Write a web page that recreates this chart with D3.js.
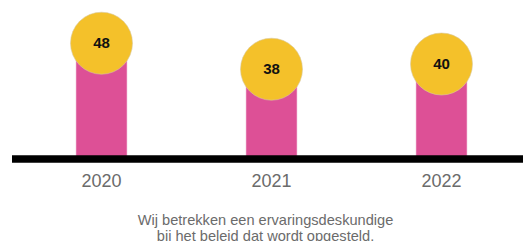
<!DOCTYPE html>
<meta charset="utf-8">
<head>
    <script src="https://d3js.org/d3.v7.min.js"></script>
    <style>
    body {
        margin: 0;
        font-family: "Liberation Sans", Arial, sans-serif;
        background: #fff;
    }
    .tick-label {
        font-size: 18px;
        fill: #6b6b6b;
    }
    .value {
        font-size: 15px;
        font-weight: bold;
        fill: #111;
    }
    .caption {
        font-size: 14.6px;
        fill: #6b6b6b;
    }
    </style>
</head>

<body>
<script>

// data
var years = ["2020", "2021", "2022"];
var scores = [48, 38, 40];
var caption = ["Wij betrekken een ervaringsdeskundige", "bij het beleid dat wordt opgesteld."];

var width = 523, height = 241;
var baseline = 159;

// scales
var x = d3.scalePoint().domain(years).range([101.5, 441.5]);
var y = d3.scaleLinear().domain([0, 60]).range([168, 12]);

var svg = d3.select("body").append("svg")
    .attr("width", width)
    .attr("height", height);

var data = years.map(function(d, i) { return {year: d, score: scores[i]}; });

// bars
svg.selectAll(".bar")
    .data(data)
  .enter().append("rect")
    .attr("class", "bar")
    .attr("x", function(d) { return x(d.year) - 25.5; })
    .attr("width", 51)
    .attr("y", function(d) { return y(d.score); })
    .attr("height", function(d) { return baseline - y(d.score); })
    .attr("fill", "#dd5096")
    .attr("stroke", "#f0c6dc")
    .attr("stroke-width", 0.6);

// axis line
svg.append("line")
    .attr("x1", 12)
    .attr("x2", width)
    .attr("y1", baseline)
    .attr("y2", baseline)
    .attr("stroke", "#000")
    .attr("stroke-width", 7.5);

// circles
svg.selectAll(".dot")
    .data(data)
  .enter().append("circle")
    .attr("class", "dot")
    .attr("cx", function(d) { return x(d.year); })
    .attr("cy", function(d) { return y(d.score); })
    .attr("r", 31)
    .attr("fill", "#f4c12a")
    .attr("stroke", "#d9c9a0")
    .attr("stroke-width", 0.6);

// value labels
svg.selectAll(".value")
    .data(data)
  .enter().append("text")
    .attr("class", "value")
    .attr("x", function(d) { return x(d.year); })
    .attr("y", function(d) { return y(d.score); })
    .attr("dy", "0.35em")
    .attr("text-anchor", "middle")
    .text(function(d) { return d.score; });

// x labels
svg.selectAll(".tick-label")
    .data(years)
  .enter().append("text")
    .attr("class", "tick-label")
    .attr("x", function(d) { return x(d); })
    .attr("y", 187)
    .attr("text-anchor", "middle")
    .text(function(d) { return d; });

// caption
svg.selectAll(".caption")
    .data(caption)
  .enter().append("text")
    .attr("class", "caption")
    .attr("x", 265.5)
    .attr("y", function(d, i) { return 225 + i * 15.5; })
    .attr("text-anchor", "middle")
    .text(function(d) { return d; });

</script>
</body>
